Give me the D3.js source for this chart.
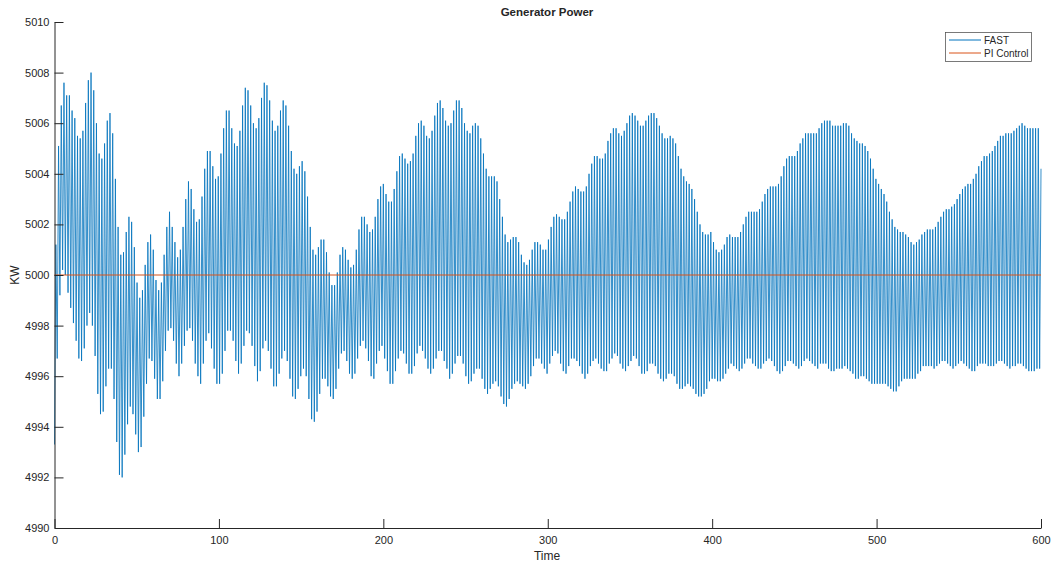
<!DOCTYPE html>
<html><head><meta charset="utf-8">
<script src="https://cdn.jsdelivr.net/npm/d3@7"></script>
<style>
body{margin:0;background:#fff}
text{font-family:"Liberation Sans",Arial,Helvetica,sans-serif;fill:#262626}
</style>
</head><body>
<svg id="chart" width="1054" height="564"></svg>
<script>
// ---------- data ----------
const title = "Generator Power";
const xLabel = "Time";
const yLabel = "KW";
const xTicks = [0, 100, 200, 300, 400, 500, 600];
const yTicks = [4990, 4992, 4994, 4996, 4998, 5000, 5002, 5004, 5006, 5008, 5010];
const timeSpan = [0, 600];
const seriesNames = ["FAST", "PI Control"];

// FAST: starting value, then the tip of every oscillation cycle (peaks) and the dip after it (troughs)
const fastStart = 4993.3;
const fastPeaks = [
5001.2,5005.1,5006.7,5007.6,5007.1,5007.1,5006.5,5006.2,5005.5,5005.4,
5005.7,5006.8,5007.7,5008.0,5007.3,5006.0,5004.8,5004.6,5005.2,5006.1,
5006.4,5005.6,5003.8,5001.9,5000.8,5000.9,5001.7,5002.3,5002.1,5001.1,
4999.7,4999.1,4999.4,5000.4,5001.3,5001.6,5001.0,4999.8,4999.4,4999.7,
5000.8,5001.9,5002.5,5001.9,5001.3,5000.7,5001.0,5001.9,5003.0,5003.7,
5003.4,5002.6,5002.1,5002.2,5003.1,5004.2,5004.9,5004.9,5004.3,5003.8,
5003.9,5004.8,5005.8,5006.5,5006.5,5005.8,5005.2,5005.1,5005.7,5006.7,
5007.4,5007.3,5006.7,5006.0,5005.8,5006.2,5007.0,5007.6,5007.5,5006.9,
5006.1,5005.7,5005.9,5006.5,5006.9,5006.7,5005.9,5004.9,5004.2,5004.0,
5004.3,5004.5,5004.1,5003.1,5001.9,5001.0,5000.8,5001.1,5001.4,5001.4,
5000.9,5000.1,4999.6,4999.6,5000.1,5000.8,5001.1,5001.0,5000.6,5000.3,
5000.4,5001.0,5001.8,5002.3,5002.3,5002.0,5001.7,5001.8,5002.3,5003.0,
5003.5,
5003.6,5003.2,5002.9,5002.9,5003.4,5004.1,5004.7,5004.8,5004.6,5004.4,
5004.5,5004.8,5005.5,5006.0,5006.1,5005.9,5005.5,5005.4,5005.7,5006.3,
5006.8,5006.9,5006.6,5006.1,5005.9,5006.0,5006.5,5006.9,5006.9,5006.6,
5006.0,5005.7,5005.6,5005.9,5006.0,5005.9,5005.4,5004.8,5004.2,5003.9,
5003.9,5003.9,5003.7,5003.0,5002.3,5001.6,5001.3,5001.4,5001.5,5001.5,
5001.3,5000.8,5000.5,5000.4,5000.6,5001.0,5001.3,5001.3,5001.2,5001.0,
5001.0,
5001.4,5001.9,5002.3,5002.4,5002.3,5002.2,5002.2,5002.5,5002.9,5003.3,
5003.5,5003.4,5003.3,5003.3,5003.5,5004.0,5004.4,5004.7,5004.7,5004.6,
5004.6,5004.8,5005.3,5005.6,5005.8,5005.8,5005.6,5005.5,5005.7,5006.0,
5006.3,5006.4,5006.3,5006.1,5005.9,5005.9,5006.1,5006.3,5006.4,5006.4,
5006.2,5005.9,5005.6,5005.4,5005.4,5005.5,5005.4,5005.2,5004.7,5004.2,
5003.9,5003.7,5003.6,5003.4,5003.0,5002.5,5002.0,5001.7,5001.6,5001.6,
5001.7,
5001.3,5001.0,5000.9,5001.0,5001.2,5001.5,5001.6,5001.5,5001.5,5001.5,
5001.7,5002.0,5002.3,5002.5,5002.5,5002.5,5002.5,5002.6,5002.9,5003.2,
5003.4,5003.5,5003.5,5003.5,5003.6,5003.9,5004.3,5004.6,5004.7,5004.7,
5004.7,5004.9,5005.2,5005.4,5005.6,5005.6,5005.6,5005.6,5005.6,5005.8,
5006.0,5006.1,5006.1,5006.1,5005.9,5005.9,5005.9,5005.9,5006.0,5006.0,
5005.9,5005.6,5005.4,5005.3,5005.2,5005.2,5005.1,5004.9,5004.6,5004.2,
5003.8,
5003.6,5003.4,5003.2,5002.9,5002.5,5002.2,5001.9,5001.8,5001.7,5001.7,
5001.6,5001.5,5001.3,5001.2,5001.3,5001.4,5001.6,5001.7,5001.8,5001.8,
5001.8,5001.9,5002.1,5002.3,5002.5,5002.6,5002.6,5002.7,5002.8,5003.0,
5003.2,5003.4,5003.5,5003.6,5003.6,5003.8,5004.0,5004.3,5004.5,5004.7,
5004.7,5004.8,5004.9,5005.1,5005.3,5005.5,5005.5,5005.6,5005.6,5005.6,
5005.7,5005.8,5005.9,5006.0,5005.9,5005.8,5005.8,5005.8,5005.8,5005.8,
5004.2
];
const fastTroughs = [
4996.7,4999.2,5000.2,5000.0,4999.3,4998.7,4998.1,4997.4,4996.7,4996.6,
4997.1,4998.0,4998.5,4998.0,4996.8,4995.3,4994.5,4994.6,4995.6,4996.3,
4996.3,4995.1,4993.4,4992.1,4992.0,4992.9,4994.1,4994.8,4994.5,4993.7,
4993.0,4993.2,4994.4,4995.7,4996.7,4996.6,4995.9,4995.1,4995.1,4995.8,
4997.0,4997.8,4997.9,4997.4,4996.5,4996.0,4996.5,4997.2,4997.8,4997.9,
4997.4,4996.5,4996.0,4995.7,4996.5,4997.4,4997.7,4997.1,4996.3,4995.7,
4995.7,4996.1,4997.0,4997.8,4997.8,4997.4,4996.6,4996.1,4996.5,4997.2,
4997.8,4997.7,4997.2,4996.4,4995.8,4996.2,4997.1,4997.4,4997.0,4996.3,
4995.6,4995.6,4996.1,4996.7,4997.0,4996.6,4995.9,4995.2,4995.1,4995.5,
4996.0,4996.3,4996.0,4995.1,4994.3,4994.2,4994.6,4995.3,4995.9,4995.9,
4995.6,4995.2,4995.1,4995.5,4996.3,4996.9,4997.0,4996.6,4996.1,4995.9,
4996.1,4996.7,4997.2,4997.4,4997.1,4996.6,4996.0,4995.9,4996.5,4997.0,
4997.2,
4996.7,4996.2,4995.7,4995.7,4996.2,4996.7,4997.0,4996.9,4996.5,4996.1,
4996.1,4996.4,4996.9,4997.2,4997.0,4996.7,4996.3,4996.1,4996.3,4996.7,
4997.0,4997.0,4996.6,4996.3,4995.9,4996.1,4996.5,4996.8,4996.8,4996.5,
4996.0,4995.7,4995.8,4996.1,4996.3,4996.3,4995.9,4995.5,4995.3,4995.5,
4995.7,4995.8,4995.6,4995.2,4994.9,4994.8,4995.1,4995.5,4995.7,4995.8,
4995.7,4995.6,4995.5,4995.7,4996.0,4996.4,4996.7,4996.7,4996.5,4996.3,
4996.1,
4996.5,4996.8,4997.0,4996.9,4996.5,4996.2,4996.1,4996.4,4996.7,4996.7,
4996.6,4996.4,4996.1,4995.9,4996.1,4996.4,4996.6,4996.7,4996.5,4996.3,
4996.2,4996.2,4996.5,4996.7,4996.9,4996.8,4996.5,4996.3,4996.2,4996.4,
4996.6,4996.8,4996.7,4996.4,4996.1,4996.1,4996.2,4996.5,4996.5,4996.4,
4996.1,4995.9,4995.8,4995.9,4996.1,4996.1,4996.0,4995.7,4995.5,4995.5,
4995.6,4995.7,4995.6,4995.5,4995.3,4995.2,4995.2,4995.3,4995.5,4995.8,
4995.9,
4995.9,4995.8,4995.8,4995.9,4996.1,4996.3,4996.5,4996.4,4996.3,4996.2,
4996.3,4996.5,4996.7,4996.7,4996.5,4996.4,4996.3,4996.3,4996.5,4996.6,
4996.7,4996.6,4996.4,4996.2,4996.1,4996.2,4996.4,4996.6,4996.6,4996.5,
4996.4,4996.3,4996.4,4996.6,4996.7,4996.6,4996.5,4996.4,4996.3,4996.5,
4996.5,4996.5,4996.3,4996.2,4996.2,4996.3,4996.3,4996.3,4996.4,4996.3,
4996.2,4996.1,4995.9,4995.9,4996.0,4996.0,4995.9,4995.8,4995.7,4995.7,
4995.7,
4995.7,4995.7,4995.7,4995.6,4995.5,4995.4,4995.4,4995.6,4995.8,4995.9,
4995.9,4995.9,4995.9,4995.9,4996.1,4996.2,4996.4,4996.4,4996.4,4996.4,
4996.3,4996.4,4996.5,4996.6,4996.6,4996.5,4996.4,4996.3,4996.4,4996.5,
4996.6,4996.5,4996.4,4996.3,4996.2,4996.2,4996.4,4996.5,4996.5,4996.5,
4996.4,4996.4,4996.4,4996.5,4996.6,4996.6,4996.5,4996.4,4996.3,4996.4,
4996.4,4996.5,4996.5,4996.4,4996.3,4996.2,4996.2,4996.2,4996.3,4996.3
];
// PI Control: constant set point
const piTimes = [0, 600];
const piValues = [5000, 5000];

// ---------- chart ----------
const colors = ["#0072BD", "#D95319"];
const svg = d3.select("#chart");
const x = d3.scaleLinear().domain(timeSpan).range([54.5, 1041]);
const y = d3.scaleLinear().domain([yTicks[0], yTicks[yTicks.length - 1]]).range([528, 22]);

// build FAST sequence: start, peak, trough, peak, trough, ...
const fastVals = [fastStart];
for (let i = 0; i < fastPeaks.length; i++) {
  fastVals.push(fastPeaks[i]);
  if (i < fastTroughs.length) fastVals.push(fastTroughs[i]);
}
const n = fastVals.length;
const fastData = fastVals.map((v, k) => ({t: timeSpan[0] + (timeSpan[1] - timeSpan[0]) * k / (n - 1), v}));
const piData = piTimes.map((t, i) => ({t, v: piValues[i]}));

const line = d3.line().x(d => x(d.t)).y(d => y(d.v));

svg.append("path").datum(fastData)
  .attr("d", line).attr("fill", "none")
  .attr("stroke", colors[0]).attr("stroke-width", 0.8);

svg.append("path").datum(piData)
  .attr("d", line).attr("fill", "none")
  .attr("stroke", colors[1]).attr("stroke-width", 1);

// axes
const xAxis = d3.axisBottom(x).tickValues(xTicks).tickFormat(d3.format("d"))
  .tickSizeInner(-9).tickSizeOuter(0).tickPadding(8);
const yAxis = d3.axisLeft(y).tickValues(yTicks).tickFormat(d3.format("d"))
  .tickSizeInner(-9).tickSizeOuter(0).tickPadding(5);

const gx = svg.append("g").attr("transform", "translate(0,528)").call(xAxis);
const gy = svg.append("g").attr("transform", "translate(54.5,0)").call(yAxis);
[gx, gy].forEach(g => {
  g.select(".domain").attr("stroke", "#262626").attr("stroke-width", 1);
  g.selectAll(".tick line").attr("stroke", "#262626").attr("stroke-width", 1);
  g.selectAll(".tick text").attr("fill", "#4d4d4d").style("font-size", "11px")
    .style("font-family", '"Liberation Sans",Arial,sans-serif');
});

// title and labels
svg.append("text").attr("x", 547).attr("y", 16).attr("text-anchor", "middle")
  .style("font-size", "11.5px").style("font-weight", "bold").text(title);
svg.append("text").attr("x", 547).attr("y", 560).attr("text-anchor", "middle")
  .style("font-size", "12px").text(xLabel);
svg.append("text").attr("transform", "translate(19,275) rotate(-90)").attr("text-anchor", "middle")
  .style("font-size", "12px").text(yLabel);

// legend
const lg = svg.append("g");
lg.append("rect").attr("x", 945.5).attr("y", 32.5).attr("width", 86).attr("height", 29)
  .attr("fill", "#fff").attr("stroke", "#4d4d4d").attr("stroke-width", 0.75);
seriesNames.forEach((name, i) => {
  const yy = 40 + i * 13;
  lg.append("line").attr("x1", 949).attr("x2", 981).attr("y1", yy).attr("y2", yy)
    .attr("stroke", colors[i]).attr("stroke-width", 1);
  lg.append("text").attr("x", 984).attr("y", yy).attr("dy", "0.35em")
    .style("font-size", "10px").text(name);
});
</script>
</body></html>
